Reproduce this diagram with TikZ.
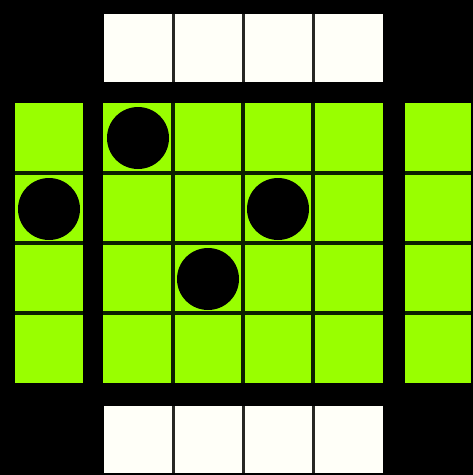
\documentclass[tikz,border=0pt]{standalone}
\begin{document}
\begin{tikzpicture}[x=1pt,y=-1pt]
\definecolor{lime}{RGB}{153,255,0}
\definecolor{gline}{RGB}{12,32,0}
\definecolor{paper}{RGB}{255,255,248}
\definecolor{wline}{RGB}{40,40,36}
\tikzset{gridline/.style={line width=4pt,draw=gline},
         wsep/.style={line width=3pt,draw=wline},
         stone/.style={fill=black}}
\useasboundingbox (0,0) rectangle (473,475);
\fill[black] (0,0) rectangle (473,475);
% white rows
\fill[paper] (104,14) rectangle (383,82);
\fill[paper] (104,406) rectangle (383,473);
\foreach \x in {173,243,313} {
  \draw[wsep] (\x,14) -- (\x,82);
  \draw[wsep] (\x,406) -- (\x,473);
}
% green areas
\fill[lime] (103,103) rectangle (383,383);
\fill[lime] (15,103) rectangle (83,383);
\fill[lime] (405,103) rectangle (471,383);
\foreach \v in {173,243,313} {
  \draw[gridline] (\v,103) -- (\v,383);
  \draw[gridline] (103,\v) -- (383,\v);
  \draw[gridline] (15,\v) -- (83,\v);
  \draw[gridline] (405,\v) -- (471,\v);
}
% stones
\fill[stone] (138,138) circle (31);
\fill[stone] (278,209) circle (31);
\fill[stone] (208,279) circle (31);
\fill[stone] (49,209) circle (31);
\end{tikzpicture}
\end{document}
